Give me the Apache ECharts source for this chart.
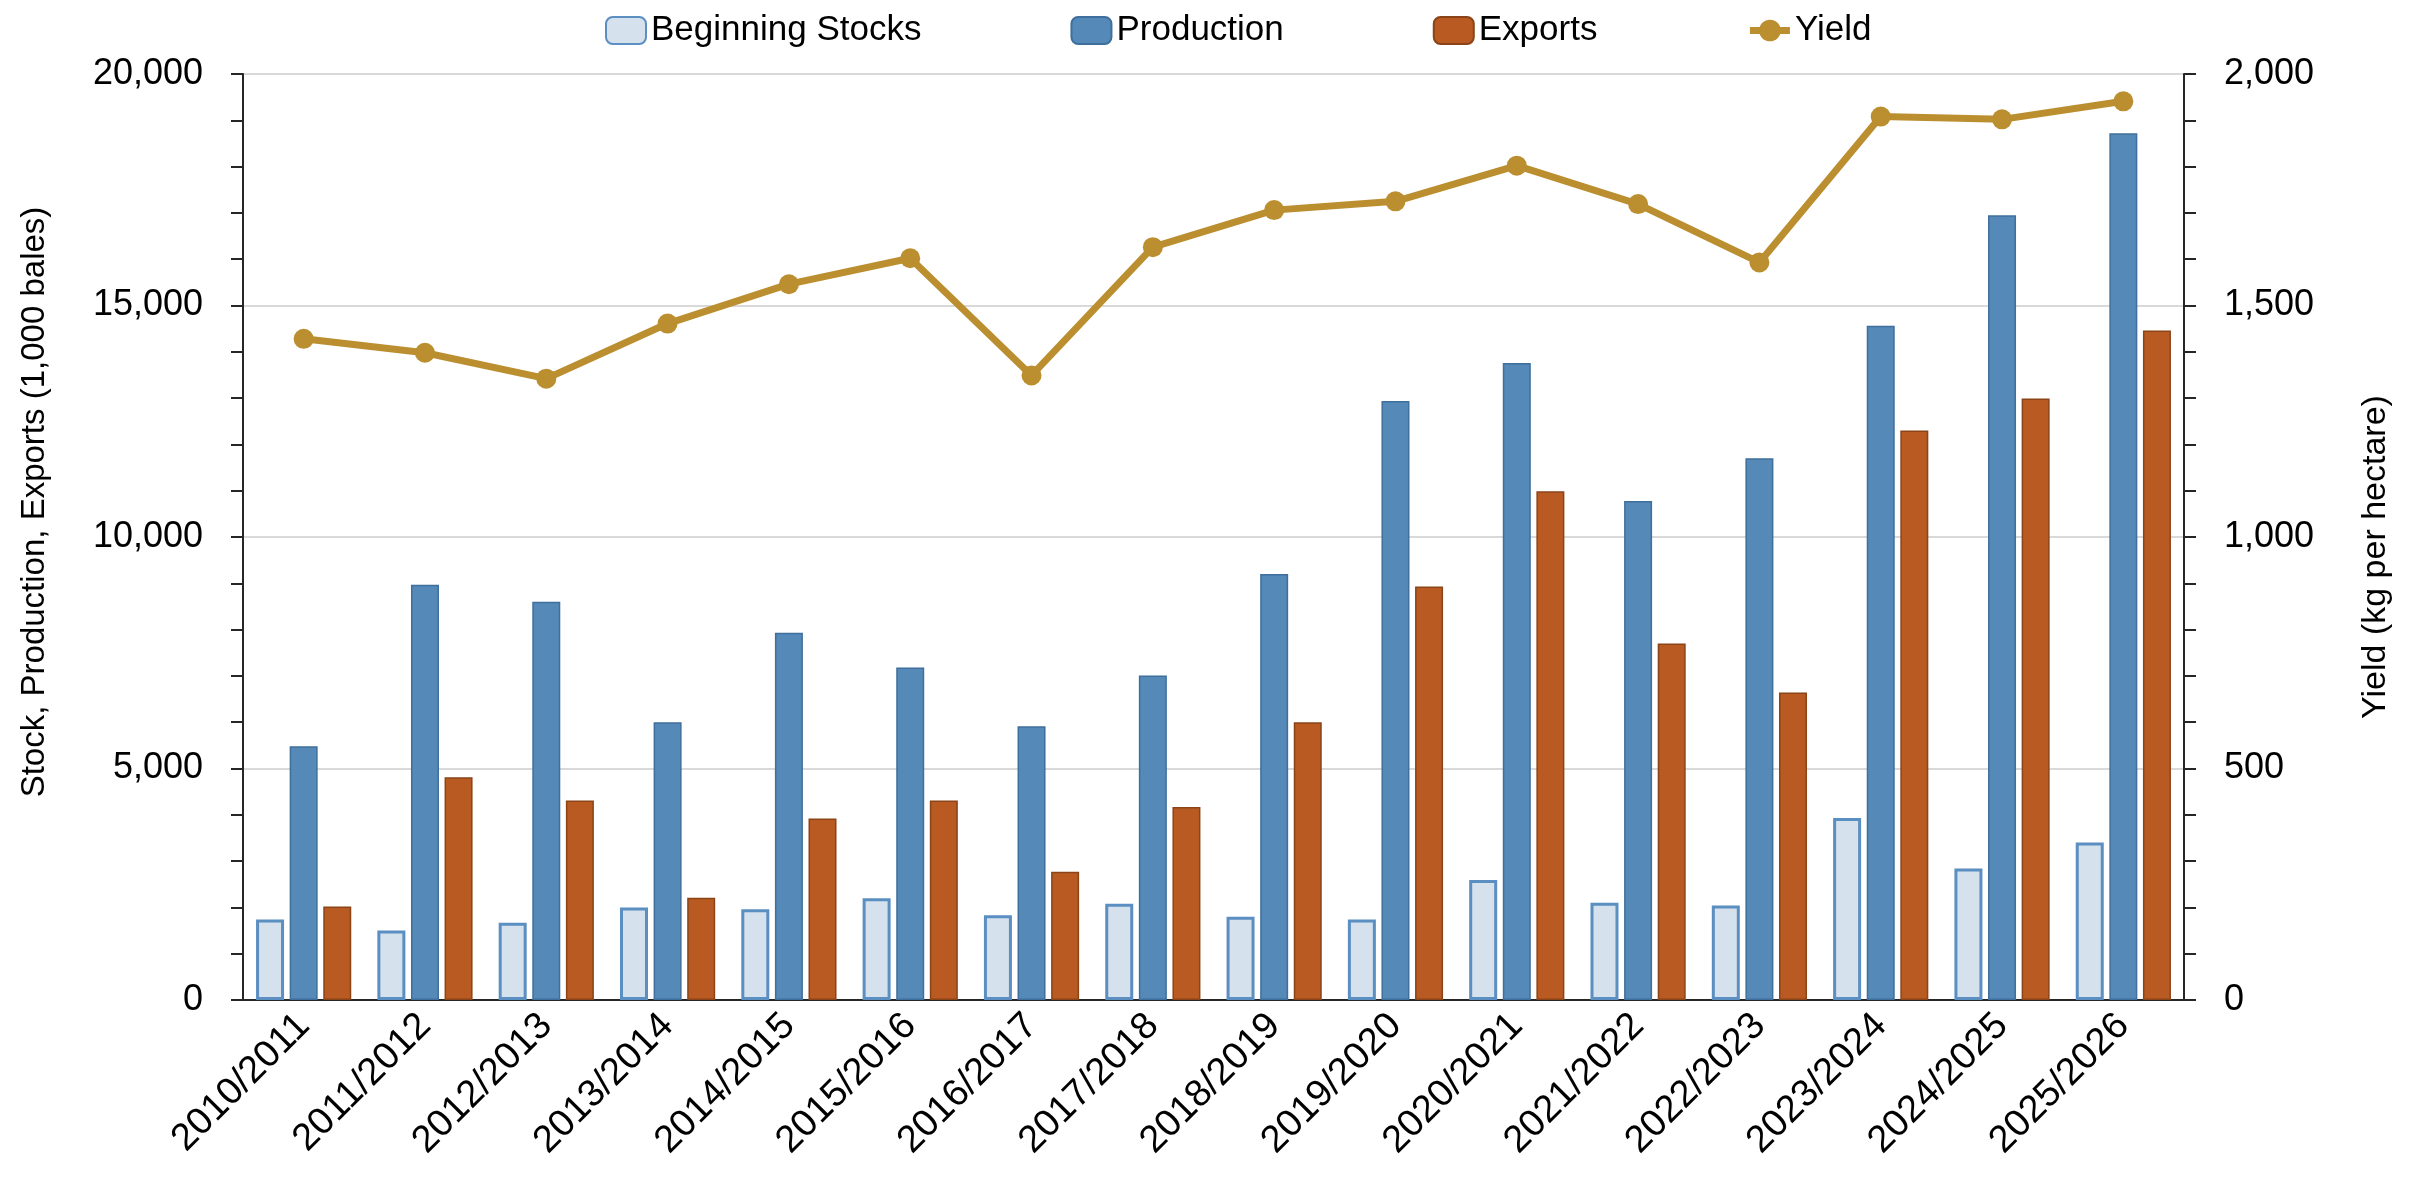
<!DOCTYPE html>
<html>
<head>
<meta charset="utf-8">
<script src="https://cdn.jsdelivr.net/npm/echarts@6/dist/echarts.min.js"></script>
<style>
  html, body { margin: 0; padding: 0; background: #fff; }
  #chart { width: 2425px; height: 1182px; }
</style>
</head>
<body>
<div id="chart"></div>
<script>
  // marketing years
  var years = ['2010/2011', '2011/2012', '2012/2013', '2013/2014', '2014/2015', '2015/2016',
    '2016/2017', '2017/2018', '2018/2019', '2019/2020', '2020/2021', '2021/2022',
    '2022/2023', '2023/2024', '2024/2025', '2025/2026']

  // 1,000 bales
  var beginningStocks = [1740, 1500, 1670, 2000, 1960, 2200, 1830, 2080, 1800, 1740, 2590, 2100, 2040, 3930, 2840, 3400]
  var production = [5480, 8970, 8600, 6000, 7930, 7180, 5910, 7010, 9200, 12940, 13760, 10780, 11700, 14560, 16950, 18720]
  var exports = [2020, 4810, 4310, 2210, 3920, 4310, 2770, 4170, 6000, 8930, 10990, 7700, 6640, 12300, 12990, 14460]

  // kg per hectare
  var yieldKg = [1428, 1398, 1342, 1461, 1546, 1602, 1349, 1626, 1706, 1725, 1802, 1719, 1593, 1908, 1902, 1941]

  var sans = '"Liberation Sans", Arial, sans-serif'
  var fmt = function (v) { return Number(v).toLocaleString('en-US') }
  var axisColor = '#262626'

  var chart = echarts.init(document.getElementById('chart'), null, { renderer: 'canvas' })

  chart.setOption({
    animation: false,
    legend: {
      left: 600,
      top: 8,
      itemWidth: 40,
      itemHeight: 27,
      itemGap: 149,
      textStyle: { fontFamily: sans, fontSize: 35, color: '#000' },
      data: [
        'Beginning Stocks',
        'Production',
        'Exports',
        { name: 'Yield', lineStyle: { width: 7 } }
      ]
    },
    grid: {
      left: 243,
      right: 241,
      top: 74,
      bottom: 182
    },
    xAxis: {
      type: 'category',
      data: years,
      axisLine: { lineStyle: { color: axisColor, width: 2 } },
      axisTick: { length: 12, lineStyle: { color: axisColor, width: 2 } },
      axisLabel: {
        rotate: 45,
        margin: 20,
        fontFamily: sans,
        fontSize: 38,
        color: '#000'
      }
    },
    yAxis: [
      {
        type: 'value',
        min: 0,
        max: 20000,
        interval: 5000,
        name: 'Stock, Production, Exports (1,000 bales)',
        nameLocation: 'middle',
        nameRotate: 90,
        nameGap: 192,
        nameTextStyle: { fontFamily: sans, fontSize: 33, color: '#000', padding: [0, 0, 0, 70] },
        axisLine: { show: true, lineStyle: { color: axisColor, width: 2 } },
        axisTick: { show: true, length: 12, lineStyle: { color: axisColor, width: 2 } },
        minorTick: { show: true, splitNumber: 5, length: 12, lineStyle: { color: axisColor, width: 2 } },
        axisLabel: { margin: 40, fontFamily: sans, fontSize: 36, color: '#000', formatter: fmt },
        splitLine: { lineStyle: { color: '#d9d9d9', width: 2 } }
      },
      {
        type: 'value',
        min: 0,
        max: 2000,
        interval: 500,
        position: 'right',
        name: 'Yield (kg per hectare)',
        nameLocation: 'middle',
        nameRotate: 90,
        nameGap: 175,
        nameTextStyle: { fontFamily: sans, fontSize: 34, color: '#000', padding: [0, 40, 0, 0] },
        axisLine: { show: true, lineStyle: { color: axisColor, width: 2 } },
        axisTick: { show: true, length: 12, lineStyle: { color: axisColor, width: 2 } },
        minorTick: { show: true, splitNumber: 5, length: 12, lineStyle: { color: axisColor, width: 2 } },
        axisLabel: { margin: 40, fontFamily: sans, fontSize: 36, color: '#000', formatter: fmt },
        splitLine: { show: false }
      }
    ],
    series: [
      {
        name: 'Beginning Stocks',
        type: 'bar',
        barWidth: 28,
        barGap: '20%',
        itemStyle: { color: '#d5e1ec', borderColor: '#5b8ec1', borderWidth: 3 },
        data: beginningStocks
      },
      {
        name: 'Production',
        type: 'bar',
        barWidth: 28,
        barGap: '20%',
        itemStyle: { color: '#5589b8', borderColor: '#3f6f9c', borderWidth: 1.5 },
        data: production
      },
      {
        name: 'Exports',
        type: 'bar',
        barWidth: 28,
        barGap: '20%',
        itemStyle: { color: '#b85a22', borderColor: '#8a4418', borderWidth: 1.5 },
        data: exports
      },
      {
        name: 'Yield',
        type: 'line',
        yAxisIndex: 1,
        symbol: 'circle',
        symbolSize: 20,
        lineStyle: { color: '#bb8f30', width: 7 },
        itemStyle: { color: '#bb8f30' },
        data: yieldKg,
        z: 5
      }
    ]
  })
</script>
</body>
</html>
